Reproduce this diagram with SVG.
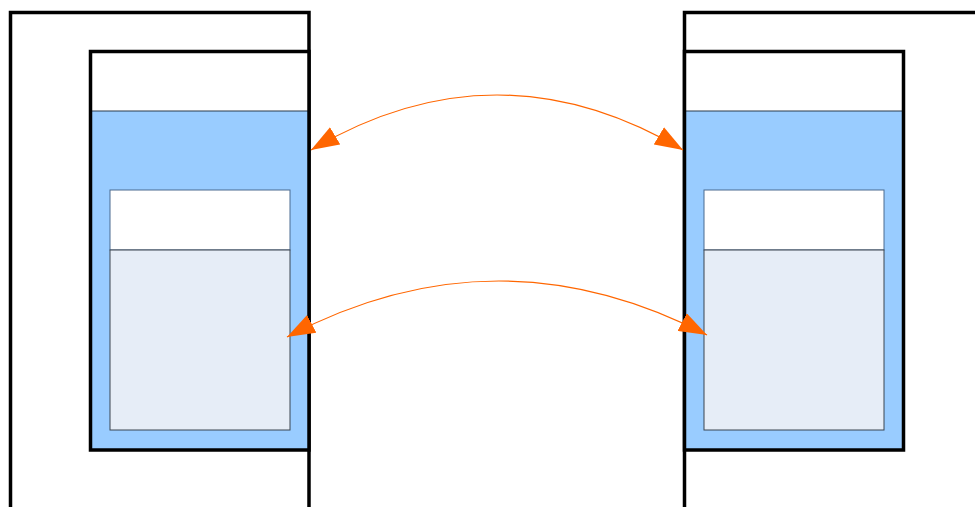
<svg xmlns="http://www.w3.org/2000/svg" width="975" height="507" viewBox="0 0 975 507">
<style>
.frame{fill:none;stroke:#000;stroke-width:3.5;stroke-linejoin:miter}
.top{fill:#fff;stroke:none}
.body{fill:#99ccff;stroke:#2a3a4a;stroke-width:1}
.border{fill:none;stroke:#000;stroke-width:3.5}
.iw{fill:#fff;stroke:#4a6a90;stroke-width:1}
.il{fill:#e6edf7;stroke:#3a4550;stroke-width:1}
.conn{fill:none;stroke:#ff6600;stroke-width:1.2}
</style>
<defs>
<marker id="ah" viewBox="0 0 28 20" refX="28" refY="10" markerWidth="28" markerHeight="20" markerUnits="userSpaceOnUse" orient="auto-start-reverse">
<path d="M0,0 L28,10 L0,20 z" fill="#ff6600"/>
</marker>
</defs>
<rect width="975" height="507" fill="#fff"/>
<g id="left">
<path class="frame" d="M10.5,507 V12.5 H309 V507"/>
<rect class="top" x="90" y="51" width="219" height="60"/>
<rect class="body" x="90" y="111" width="219" height="339"/>
<rect class="iw" x="110" y="190" width="180" height="60"/>
<rect class="il" x="110" y="250" width="180" height="180"/>
<rect class="border" x="90.5" y="51.5" width="218.5" height="398.5"/>
</g>
<g id="right">
<path class="frame" d="M684.5,507 V12.5 H980"/>
<rect class="top" x="684" y="51" width="220" height="60"/>
<rect class="body" x="684" y="111" width="220" height="339"/>
<rect class="iw" x="704" y="190" width="180" height="60"/>
<rect class="il" x="704" y="250" width="180" height="180"/>
<rect class="border" x="684.5" y="51.5" width="219" height="398.5"/>
</g>
<g id="connectors">
<path class="conn" d="M311,150 Q497,40 683,150" marker-start="url(#ah)" marker-end="url(#ah)"/>
<path class="conn" d="M287,337 Q497,226 707,335" marker-start="url(#ah)" marker-end="url(#ah)"/>
</g>
</svg>
